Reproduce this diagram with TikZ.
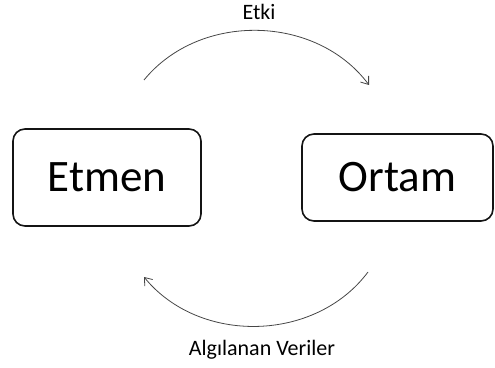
\documentclass[tikz,border=0pt]{standalone}
\usepackage{fontspec}
\setmainfont{Carlito}
\usetikzlibrary{arrows.meta,positioning}
\definecolor{ink}{RGB}{20,20,20}
\definecolor{wire}{RGB}{70,70,70}
\tikzset{
  >={Straight Barb[length=2.4mm,width=3.6mm]},
  agent box/.style={draw=ink,line width=1.6pt,rounded corners=12pt,
    font=\fontsize{45}{50}\selectfont,inner sep=0pt},
  loop/.style={->,line width=0.8pt,draw=wire},
  tag/.style={font=\fontsize{22}{24}\selectfont,anchor=base},
}

\begin{document}
\begin{tikzpicture}[x=1pt,y=1pt]
  \useasboundingbox (0,0) rectangle (495,367);
  % boxes
  \node[agent box,minimum width=188pt,minimum height=97pt] (etmen) at (107,189.5) {Etmen};
  \node[agent box,minimum width=191pt,minimum height=87pt] (ortam) at (397.5,189.5) {Ortam};
  % arc ends
  \coordinate (etki from) at (144,287);
  \coordinate (etki to) at (369,282);
  \coordinate (veri from) at (368,95);
  \coordinate (veri to) at (144,90);
  % arcs
  \draw[loop] (etki from) to[bend left=52] (etki to);
  \draw[loop] (veri from) to[bend left=52] (veri to);
  % labels
  \node[tag] (etki) at (259,347) {Etki};
  \node[tag] (veri) at (262,12) {Algılanan Veriler};
\end{tikzpicture}
\end{document}
